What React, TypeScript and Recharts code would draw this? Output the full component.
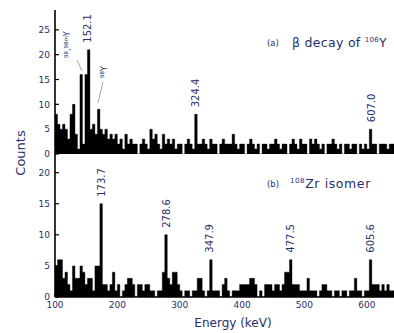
import React from 'react';
import { ComposedChart, Area, Line, Scatter, XAxis, YAxis } from 'recharts';

// Histogram binning (keV)
const BIN_START_KEV = 100;
const BIN_WIDTH_KEV = 4;

// (a) β decay of 106Y: counts per 4 keV bin, first bin starts at 100 keV
const decayCounts = [
  8, 6, 5, 6, 5, 3, 8, 10, 4, 1,
  16, 2, 16, 21, 5, 6, 4, 9, 5, 4,
  5, 3, 4, 3, 4, 2, 3, 1, 4, 2,
  3, 2, 2, 0, 2, 3, 2, 1, 5, 3,
  4, 2, 1, 4, 2, 3, 2, 3, 1, 2,
  2, 0, 2, 3, 2, 1, 8, 2, 2, 3,
  2, 1, 3, 2, 2, 0, 2, 3, 2, 2,
  2, 4, 2, 1, 2, 2, 0, 2, 3, 2,
  1, 2, 0, 2, 2, 1, 2, 2, 3, 2,
  1, 2, 2, 0, 2, 3, 2, 1, 3, 2,
  2, 0, 3, 2, 3, 2, 1, 2, 0, 2,
  2, 3, 2, 1, 2, 0, 2, 2, 1, 2,
  2, 0, 2, 1, 2, 1, 5, 2, 2, 0,
  2, 2, 2, 1, 2, 2, 1, 2,
];

// (b) 108Zr isomer: counts per 4 keV bin, first bin starts at 100 keV
const isomerCounts = [
  5, 6, 6, 3, 4, 2, 1, 5, 3, 3,
  5, 4, 2, 3, 3, 1, 5, 5, 15, 2,
  2, 1, 2, 4, 1, 2, 0, 1, 2, 3,
  3, 2, 0, 2, 2, 1, 2, 2, 1, 1,
  0, 1, 1, 4, 10, 3, 2, 4, 4, 2,
  1, 0, 1, 1, 0, 1, 1, 3, 3, 1,
  0, 1, 6, 1, 1, 1, 0, 2, 3, 1,
  0, 1, 1, 1, 2, 2, 2, 2, 3, 3,
  2, 0, 1, 0, 2, 2, 2, 1, 2, 2,
  1, 2, 4, 4, 6, 2, 2, 2, 1, 1,
  1, 3, 1, 1, 1, 0, 1, 2, 2, 1,
  1, 0, 1, 1, 0, 1, 1, 0, 1, 1,
  3, 1, 1, 0, 1, 1, 6, 2, 2, 2,
  1, 2, 1, 2, 1, 1, 0, 1,
];

const energyDomain: [number, number] = [100, 650];
const energyTicks = [100, 200, 300, 400, 500, 600];
const decayCountTicks = [0, 5, 10, 15, 20, 25];
const isomerCountTicks = [0, 5, 10, 15, 20];
const decayCountMax = 29;
const isomerCountMax = 23;

// Labelled γ lines
const decayPeakEnergies = [152.1, 324.4, 607.0];
const decayPeakCounts = [21, 8, 5];
const decayPeakLabels = ['152.1', '324.4', '607.0'];

const isomerPeakEnergies = [173.7, 278.6, 347.9, 477.5, 605.6];
const isomerPeakCounts = [15, 10, 6, 6, 6];
const isomerPeakLabels = ['173.7', '278.6', '347.9', '477.5', '605.6'];

// Contaminant lines in the decay spectrum: [superscript, text] pieces
const contaminantEnergies = [142, 170];
const contaminantCounts = [16, 9];
const contaminantLabels: [string, string][][] = [
  [['98', ','], ['98m', 'Y']],
  [['98', 'Y']],
];

// Placement of contaminant labels and leader lines relative to their line
const contaminantLayout = [
  { tx: -11, ty: -16.5, lx1: -4.2, ly1: -14.5, lx2: 0.8, ly2: -3.5 },
  { tx: 8.3, ty: -31.3, lx1: 4.3, ly1: -27.3, lx2: -0.7, ly2: -6.3 },
];

const FONT = '"DejaVu Sans", Verdana, sans-serif';
const TEXT_COLOR = '#27306c';
const CHART_W = 420;
const PLOT_RIGHT_MARGIN = 22;

const toRows = (counts: number[]) => {
  const rows = counts.map((c, i) => ({ e: BIN_START_KEV + i * BIN_WIDTH_KEV, c }));
  rows.push({ e: BIN_START_KEV + counts.length * BIN_WIDTH_KEV, c: counts[counts.length - 1] });
  return rows;
};

const toPeaks = (energies: number[], counts: number[], labels: string[]) =>
  energies.map((e, i) => ({ e, c: counts[i], label: labels[i] }));

const decayRows = toRows(decayCounts);
const isomerRows = toRows(isomerCounts);
const decayPeaks = toPeaks(decayPeakEnergies, decayPeakCounts, decayPeakLabels);
const isomerPeaks = toPeaks(isomerPeakEnergies, isomerPeakCounts, isomerPeakLabels);
const contaminants = contaminantEnergies.map((e, i) => ({ e, c: contaminantCounts[i], idx: i }));

const axisLine = { stroke: '#000', strokeWidth: 1.6 };
const tickLine = { stroke: '#000', strokeWidth: 1.2 };
const tickText = { fontSize: 9, fill: TEXT_COLOR, fontFamily: FONT };

const PeakLabel = (props: any) => {
  const { cx, cy, payload } = props;
  if (cx == null || cy == null) return <g />;
  return (
    <text
      transform={`translate(${cx + 3.6},${cy - 7}) rotate(-90)`}
      fontSize={10}
      fontFamily={FONT}
      fill={TEXT_COLOR}
    >
      {payload.label}
    </text>
  );
};

const ContaminantLabel = (props: any) => {
  const { cx, cy, payload } = props;
  if (cx == null || cy == null) return <g />;
  const L = contaminantLayout[payload.idx];
  const parts = contaminantLabels[payload.idx];
  return (
    <g>
      <line
        x1={cx + L.lx1}
        y1={cy + L.ly1}
        x2={cx + L.lx2}
        y2={cy + L.ly2}
        stroke="#8c8c8c"
        strokeWidth={0.8}
      />
      <text
        transform={`translate(${cx + L.tx},${cy + L.ty}) rotate(-90)`}
        fontSize={8}
        fontFamily={FONT}
        fill={TEXT_COLOR}
      >
        {parts.map(([sup, base], k) => (
          <React.Fragment key={k}>
            <tspan fontSize={5.5} dy={-2.5}>{sup}</tspan>
            <tspan dy={2.5}>{base}</tspan>
          </React.Fragment>
        ))}
      </text>
    </g>
  );
};

type PanelProps = {
  rows: { e: number; c: number }[];
  countMax: number;
  countTicks: number[];
  peaks: { e: number; c: number; label: string }[];
  height: number;
  marginTop: number;
  marginBottom: number;
  energyLabels: boolean;
  xAxisHeight: number;
  withContaminants?: boolean;
};

function Panel({
  rows,
  countMax,
  countTicks,
  peaks,
  height,
  marginTop,
  marginBottom,
  energyLabels,
  xAxisHeight,
  withContaminants,
}: PanelProps) {
  return (
    <ComposedChart
      width={CHART_W}
      height={height}
      data={rows}
      margin={{ top: marginTop, right: PLOT_RIGHT_MARGIN, bottom: marginBottom, left: 0 }}
    >
      <XAxis
        xAxisId="b"
        dataKey="e"
        type="number"
        domain={energyDomain}
        allowDataOverflow
        ticks={energyTicks}
        interval={0}
        tickSize={-4}
        tickMargin={9}
        tick={energyLabels ? tickText : false}
        axisLine={axisLine}
        tickLine={tickLine}
        height={xAxisHeight}
      />
      <XAxis
        xAxisId="t"
        orientation="top"
        dataKey="e"
        type="number"
        domain={energyDomain}
        allowDataOverflow
        ticks={energyTicks}
        interval={0}
        tickSize={-4}
        tick={false}
        axisLine={axisLine}
        tickLine={tickLine}
        height={0}
      />
      <YAxis
        yAxisId="l"
        type="number"
        domain={[0, countMax]}
        allowDataOverflow
        ticks={countTicks}
        interval={0}
        tickSize={-4}
        tickMargin={9}
        tick={tickText}
        axisLine={axisLine}
        tickLine={tickLine}
        width={55}
      />
      <YAxis
        yAxisId="r"
        orientation="right"
        type="number"
        domain={[0, countMax]}
        allowDataOverflow
        ticks={countTicks}
        interval={0}
        tickSize={-4}
        tick={false}
        axisLine={axisLine}
        tickLine={tickLine}
        width={0}
      />
      <Area
        xAxisId="b"
        yAxisId="l"
        type="stepAfter"
        dataKey="c"
        fill="#000"
        fillOpacity={1}
        stroke="#000"
        strokeWidth={0.4}
        isAnimationActive={false}
      />
      <Line
        xAxisId="t"
        yAxisId="r"
        dataKey="c"
        stroke="none"
        dot={false}
        activeDot={false}
        isAnimationActive={false}
      />
      <Scatter
        xAxisId="b"
        yAxisId="l"
        data={peaks}
        dataKey="c"
        shape={PeakLabel}
        isAnimationActive={false}
      />
      {withContaminants && (
        <Scatter
          xAxisId="b"
          yAxisId="l"
          data={contaminants}
          dataKey="c"
          shape={ContaminantLabel}
          isAnimationActive={false}
        />
      )}
    </ComposedChart>
  );
}

export default function App() {
  return (
    <div
      style={{
        position: 'absolute',
        left: 0,
        top: 0,
        width: 394,
        height: 333,
        overflow: 'hidden',
        background: '#fff',
      }}
    >
      <div style={{ position: 'absolute', left: 0, top: 150 }}>
        <Panel
          rows={isomerRows}
          countMax={isomerCountMax}
          countTicks={isomerCountTicks}
          peaks={isomerPeaks}
          height={183}
          marginTop={4}
          marginBottom={0}
          energyLabels
          xAxisHeight={36}
        />
      </div>
      <div style={{ position: 'absolute', left: 0, top: 0 }}>
        <Panel
          rows={decayRows}
          countMax={decayCountMax}
          countTicks={decayCountTicks}
          peaks={decayPeaks}
          height={162}
          marginTop={10}
          marginBottom={8}
          energyLabels={false}
          xAxisHeight={0}
          withContaminants
        />
      </div>
      <svg
        width={394}
        height={333}
        style={{ position: 'absolute', left: 0, top: 0, pointerEvents: 'none' }}
        fontFamily={FONT}
        fill={TEXT_COLOR}
      >
        <text
          x={20}
          y={153}
          transform="rotate(-90 20 153)"
          textAnchor="middle"
          dominantBaseline="central"
          fontSize={13}
        >
          Counts
        </text>
        <text x={233} y={327} textAnchor="middle" fontSize={12}>
          Energy (keV)
        </text>
        <text x={267} y={46} fontSize={8.5}>(a)</text>
        <text x={292} y={47} fontSize={12.5} letterSpacing={0.3}>
          β decay of <tspan fontSize={7} dy={-5}>106</tspan>
          <tspan dy={5}>Y</tspan>
        </text>
        <text x={267} y={187} fontSize={8.5}>(b)</text>
        <text x={290} y={188} fontSize={12.5} letterSpacing={0.6}>
          <tspan fontSize={7} dy={-5}>108</tspan>
          <tspan dy={5}>Zr isomer</tspan>
        </text>
      </svg>
    </div>
  );
}
